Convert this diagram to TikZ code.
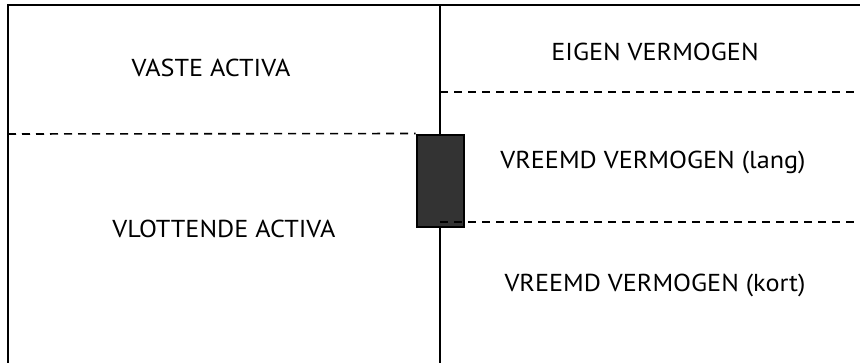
\documentclass[tikz,border=0pt]{standalone}
\usepackage{fontspec}
\setmainfont[FakeStretch=1.07]{PT Sans}
\begin{document}
\begin{tikzpicture}[x=1pt,y=-1pt,
  frame/.style={line width=2pt,black},
  sep/.style={line width=1.6pt,dash pattern=on 8pt off 6pt},
  lbl/.style={font=\fontsize{24.5}{28}\selectfont,inner sep=0pt,anchor=center},
  blk/.style={draw=black,line width=2pt,fill=black!80,minimum width=47pt,minimum height=92pt,inner sep=0pt}]
\useasboundingbox (0,0) rectangle (860,362);
\coordinate (tl) at (8,5);
\coordinate (tr) at (861,5);
\coordinate (bl) at (8,363);
\coordinate (mt) at (440,5);
\coordinate (mb) at (440,363);
\draw[frame] (bl) -- (tl) -- (tr);
\draw[frame] (mt) -- (mb);
\node[blk] (k) at (440,180.5) {};
\coordinate (d1a) at (8,134);
\coordinate (d2a) at (440,92);
\coordinate (d2b) at (861,92);
\coordinate (d3a) at (440,222);
\coordinate (d3b) at (861,222);
\draw[sep] (d1a) -- (k.north west);
\draw[sep] (d2a) -- (d2b);
\draw[sep] (d3a) -- (d3b);
\node[lbl] (va) at (211,68) {VASTE ACTIVA};
\node[lbl] (vl) at (224,229) {VLOTTENDE ACTIVA};
\node[lbl] (ev) at (655,52) {EIGEN VERMOGEN};
\node[lbl,anchor=base] (vvl) at (653,168) {VREEMD VERMOGEN (lang)};
\node[lbl,anchor=base] (vvk) at (655,291) {VREEMD VERMOGEN (kort)};
\end{tikzpicture}
\end{document}
